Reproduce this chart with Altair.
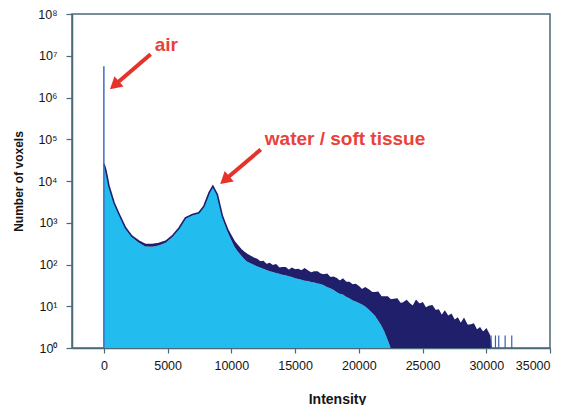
import altair as alt
import pandas as pd

# ---------------- data ----------------
intensity = [0, 150, 400, 800, 1200, 1700, 2200, 2750, 3250, 3800, 4300, 4850,
             5350, 5900, 6400, 6950, 7450, 7850, 8250, 8550, 8900, 9300,
             9500, 9750, 10000, 10250, 10500, 10750, 11000, 11250, 11500, 11750,
             12000, 12250, 12500, 12750, 13000, 13250, 13500, 13750, 14000, 14250,
             14500, 14750, 15000, 15250, 15500, 15750, 16000, 16250, 16500, 16750,
             17000, 17250, 17500, 17750, 18000, 18250, 18500, 18750, 19000, 19250,
             19500, 19750, 20000, 20250, 20500, 20750, 21000, 21250, 21500, 21750,
             22000, 22250, 22500, 22750, 23000, 23250, 23500, 23750, 24000, 24250,
             24500, 24750, 25000, 25250, 25500, 25750, 26000, 26250, 26500, 26750,
             27000, 27250, 27500, 27750, 28000, 28250, 28500, 28750, 29000, 29250,
             29500, 29750, 30000, 30250, 30400]

# top of the dark (navy) outline
upper = [26000, 18500, 7600, 3000, 1600, 760, 475, 360, 300, 300, 318, 360,
         475, 750, 1310, 1580, 1730, 2500, 5200, 7550, 4750, 1440,
         1000, 645, 470, 345, 280, 228, 196, 172, 155, 142,
         132, 115, 117, 98, 105, 93, 98, 81, 83, 83,
         71, 81, 74, 76, 69, 78, 69, 62, 66, 66,
         58, 56, 58, 48, 49, 46, 39, 44, 37, 37,
         32, 33, 29, 24.5, 27.5, 24.5, 21.4, 20.9, 21.4, 16.6,
         16.6, 16.6, 14.1, 14.5, 14.8, 11.5, 12.0, 13.5, 11.2, 9.8,
         13.5, 11.0, 12.0, 8.9, 9.8, 10.2, 7.8, 8.1, 5.8, 7.4,
         5.6, 6.3, 4.5, 5.1, 3.7, 4.9, 3.5, 3.5, 3.7, 2.6,
         3.0, 2.3, 2.8, 2.0, 1]

# top of the light-blue fill
lower = [26000, 18500, 7600, 3000, 1600, 740, 455, 330, 270, 268, 285, 330,
         455, 730, 1290, 1560, 1710, 2470, 5150, 7500, 4700, 1420,
         912, 562, 380, 263, 204, 166, 135, 117, 107, 98,
         91, 85, 79, 74, 69, 66, 63, 60, 57, 55,
         52, 50, 47, 45, 43, 41, 40, 38, 37, 35,
         34, 32, 29, 27, 25, 22, 20, 19, 17, 15.5,
         14, 13, 12, 11, 9.8, 8.5, 7.2, 6.0, 4.6, 3.5,
         2.5, 1.6, 1, 1, 1, 1, 1, 1, 1, 1,
         1, 1, 1, 1, 1, 1, 1, 1, 1, 1,
         1, 1, 1, 1, 1, 1, 1, 1, 1, 1,
         1, 1, 1, 1, 1]

air_x = [0]
air_count = [5.6e6]

spike_x = [30380, 30720, 30980, 31480, 32000]
spike_count = [2, 2, 2, 2, 2]

x_ticks = [0, 5000, 10000, 15000, 20000, 25000, 30000, 35000]
y_ticks = [1, 10, 100, 1000, 10000, 100000, 1000000, 10000000, 100000000]

note_text = ["air", "water / soft tissue"]
note_x = [3983, 12625]
note_y = [1.27e7, 7.1e4]

arrow_from_x = [3669, 12310]
arrow_from_y = [1.08e7, 5.69e4]
arrow_head_x = [833, 9482]
arrow_head_y = [1.96e6, 1.051e4]

# ---------------- tables ----------------
hist = pd.DataFrame({"intensity": intensity, "upper": upper, "lower": lower})
air = pd.DataFrame({"intensity": air_x, "count": air_count})
spikes = pd.DataFrame({"intensity": spike_x, "count": spike_count})
notes = pd.DataFrame({"intensity": note_x, "count": note_y, "text": note_text})
arrows = pd.DataFrame({"intensity": arrow_from_x, "count": arrow_from_y,
                       "hx": arrow_head_x, "hy": arrow_head_y})

FRAME = "#4b6a78"
NAVY = "#1f1f6c"
LIGHT = "#22bdee"
RED = "#e8423a"
FONT = "Liberation Sans"

x_scale = alt.Scale(domain=[-2500, 35000], nice=False, zero=False)
y_scale = alt.Scale(type="log", domain=[1, 1e8], nice=False)

x_axis = alt.Axis(values=x_ticks, format="d", title="Intensity", grid=False,
                  domainColor=FRAME, domainWidth=1.5, tickColor=FRAME, tickWidth=1.2,
                  tickSize=5, labelFontSize=12.5, labelColor="#151515", labelPadding=6,
                  labelFont=FONT, titleFont=FONT, titleFontSize=14, titleFontWeight="bold",
                  titleColor="#151515", titleX=265, titleY=55, titleBaseline="alphabetic")
y_axis = alt.Axis(values=y_ticks, title="Number of voxels", grid=False,
                  labelExpr="'10' + ['⁰','¹','²','³','⁴','⁵','⁶','⁷','⁸'][round(log(datum.value)/LN10)]",
                  domainColor=FRAME, domainWidth=1.5, tickColor=FRAME, tickWidth=1.2,
                  tickSize=6, labelFontSize=12.5, labelColor="#151515", labelPadding=9,
                  labelFont=FONT, titleFont=FONT, titleFontSize=12, titleFontWeight="bold",
                  titleColor="#151515", titleX=-50, titleY=167, titleBaseline="alphabetic")


def X(field="intensity"):
    return alt.X(f"{field}:Q", scale=x_scale, axis=x_axis)


def Y(field):
    return alt.Y(f"{field}:Q", scale=y_scale, axis=y_axis)


fill = alt.Chart(hist).mark_area(color=LIGHT, opacity=1).encode(
    x=X(), y=Y("lower"), y2=alt.datum(1))
band = alt.Chart(hist).mark_area(color=NAVY, opacity=1).encode(
    x=X(), y=Y("upper"), y2="lower:Q")
outline = alt.Chart(hist).mark_line(color=NAVY, strokeWidth=1.6).encode(
    x=X(), y=Y("upper"))
air_rule = alt.Chart(air).mark_rule(color="#3f6cc4", strokeWidth=1.5).encode(
    x=X(), y=Y("count"), y2=alt.datum(1))
spike_rule = alt.Chart(spikes).mark_rule(color="#3d5cb6", strokeWidth=1.2).encode(
    x=X(), y=Y("count"), y2=alt.datum(1))
arrow_line = alt.Chart(arrows).mark_rule(color="#e5332a", strokeWidth=4).encode(
    x=X(), y=Y("count"), x2="hx:Q", y2="hy:Q")
arrow_head = alt.Chart(arrows).mark_point(shape="triangle-up", filled=True, size=190,
                                          color="#e5332a", angle=229, opacity=1).encode(
    x=X("hx"), y=Y("hy"))
note_marks = alt.Chart(notes).mark_text(color=RED, font=FONT, fontSize=19, fontWeight="bold",
                                        align="left", baseline="alphabetic").encode(
    x=X(), y=Y("count"), text="text:N")

chart = alt.layer(fill, band, outline, air_rule, spike_rule, arrow_line, arrow_head,
                  note_marks).properties(
    width=478, height=334,
    autosize=alt.AutoSizeParams(type="none"),
    padding={"left": 72, "top": 14, "right": 21, "bottom": 57},
    background="white",
).configure_view(stroke=FRAME, strokeWidth=1.5)

chart.save("out.html", embed_options={"renderer": "svg", "actions": False})
